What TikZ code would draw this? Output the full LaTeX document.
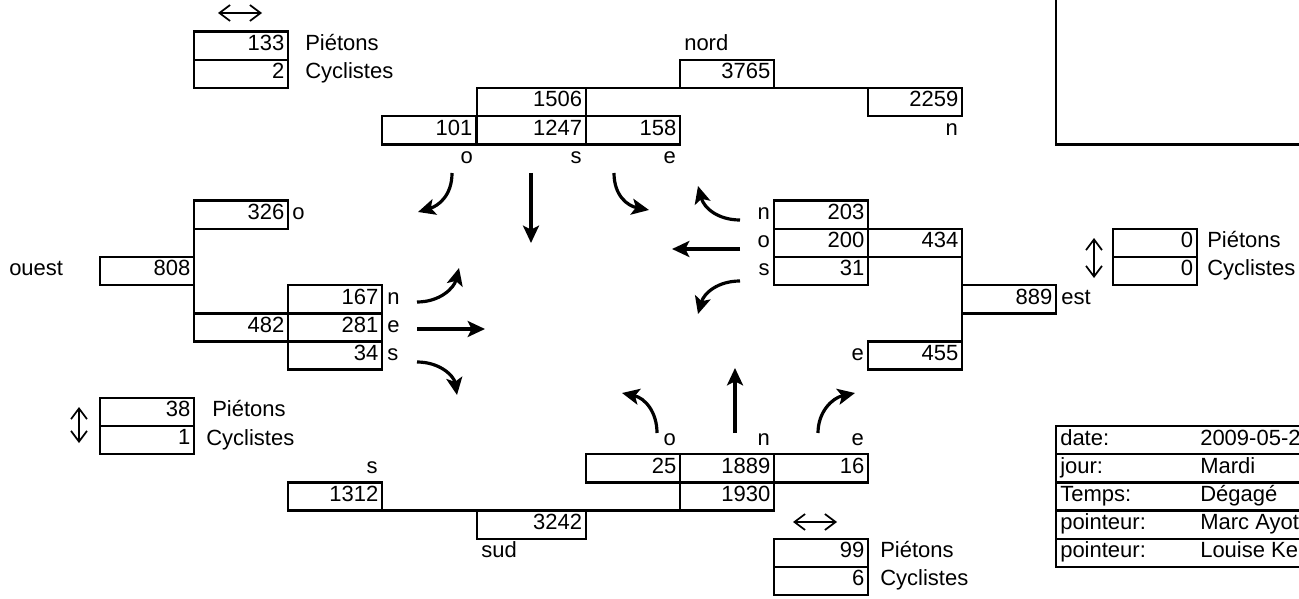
\documentclass[tikz,border=0pt]{standalone}
\usepackage{fontspec}
\setmainfont{Liberation Sans}
\usetikzlibrary{arrows.meta}

\begin{document}
\begin{tikzpicture}[x=0.75pt,y=-0.75pt,
  font={\fontsize{16.5pt}{20pt}\selectfont},
  cell/.style={draw,line width=1.8pt,outer sep=0pt,anchor=north west,inner xsep=3pt,inner ysep=0pt,
    text width=64.7pt,align=right,minimum height=21.1pt,text height=0.72em,text depth=0pt},
  wcell/.style={cell,text width=75.75pt},
  lab/.style={inner sep=0pt,text height=0.72em,text depth=0pt},
  turn/.style={line width=2.4pt,-{Stealth[length=13pt,width=12pt,inset=3pt]}},
  walk/.style={line width=1.3pt,{Straight Barb[length=8pt,width=12pt]}-{Straight Barb[length=8pt,width=12pt]}},
  rule/.style={line width=1.8pt}]
  \useasboundingbox (0,0) rectangle (1299,599);
  \clip (0,0) rectangle (1299,599);

  % nord
  \node[lab,anchor=west] (nordL) at (684,45.7) {nord};
  \node[cell] (nTot) at (680,59.8) {3765};
  \node[wcell] (nIn) at (477,88) {1506};
  \node[cell] (nOut) at (868,88) {2259};
  \node[cell] (nO) at (382,116.2) {101};
  \node[wcell] (nS) at (477,116.2) {1247};
  \node[cell] (nE) at (586,116.2) {158};
  \draw[rule] (nIn.north east) -- (nOut.north west);
  \node[lab,anchor=east] (nOutL) at (958,130.3) {n};
  \node[lab,anchor=east] (nOL) at (473,158.5) {o};
  \node[lab,anchor=east] (nSL) at (582,158.5) {s};
  \node[lab,anchor=east] (nEL) at (676,158.5) {e};

  % ouest
  \node[cell] (oTurn) at (194,200.7) {326};
  \node[lab,anchor=west] (oTurnL) at (292,214.8) {o};
  \node[lab,anchor=west] (ouestL) at (9,271.1) {ouest};
  \node[cell] (oTot) at (100,257) {808};
  \node[cell] (oN) at (288,285.2) {167};
  \node[cell] (oIn) at (194,313.4) {482};
  \node[cell] (oE) at (288,313.4) {281};
  \node[cell] (oS) at (288,341.5) {34};
  \draw[rule] (oTurn.north west) -- (oIn.south west);
  \node[lab,anchor=west] (oNL) at (387,299.3) {n};
  \node[lab,anchor=west] (oEL) at (387,327.5) {e};
  \node[lab,anchor=west] (oSL) at (387,355.6) {s};

  % est
  \node[cell] (eN) at (774,200.7) {203};
  \node[cell] (eO) at (774,228.9) {200};
  \node[cell] (eIn) at (868,228.9) {434};
  \node[cell] (eS) at (774,257) {31};
  \node[cell] (eTot) at (962,285.2) {889};
  \node[cell] (eOut) at (868,341.5) {455};
  \draw[rule] (eIn.south east) -- (eOut.north east);
  \node[lab,anchor=east] (eNL) at (770,214.8) {n};
  \node[lab,anchor=east] (eOL) at (770,243) {o};
  \node[lab,anchor=east] (eSL) at (770,271.1) {s};
  \node[lab,anchor=west] (estL) at (1061,299.3) {est};
  \node[lab,anchor=east] (eOutL) at (864,355.6) {e};

  % sud
  \node[lab,anchor=east] (sOL) at (676,440.2) {o};
  \node[lab,anchor=east] (sNL) at (770,440.2) {n};
  \node[lab,anchor=east] (sEL) at (864,440.2) {e};
  \node[cell] (sO) at (586,454.2) {25};
  \node[cell] (sN) at (680,454.2) {1889};
  \node[cell] (sE) at (774,454.2) {16};
  \node[cell] (sIn) at (680,482.4) {1930};
  \node[lab,anchor=east] (sOutL) at (378,468.3) {s};
  \node[cell] (sOut) at (288,482.4) {1312};
  \node[wcell] (sTot) at (477,510.6) {3242};
  \draw[rule] (sOut.south east) -- (sIn.south west);
  \node[lab,anchor=west] (sudL) at (481,552.8) {sud};

  % mouvements
  \draw[turn] (452,173) .. controls (452,196) and (438,206) .. (418,212);
  \draw[turn] (531,173) -- (531,243);
  \draw[turn] (614,173) .. controls (614,196) and (628,206) .. (649,210);
  \draw[turn] (417,302) .. controls (440,302) and (454,288) .. (459,268);
  \draw[turn] (417,329) -- (485,329);
  \draw[turn] (417,362) .. controls (440,362) and (454,376) .. (457,395);
  \draw[turn] (740,220) .. controls (718,220) and (704,208) .. (698,186);
  \draw[turn] (740,249) -- (672,249);
  \draw[turn] (740,281) .. controls (718,281) and (704,293) .. (698,314);
  \draw[turn] (657,433) .. controls (657,412) and (645,398) .. (622,393);
  \draw[turn] (735,433) -- (735,368);
  \draw[turn] (818,433) .. controls (818,412) and (832,398) .. (855,393);

  % pietons et cyclistes
  \draw[walk] (218,13) -- (262,13);
  \node[cell] (nwPie) at (194,31.7) {133};
  \node[cell] (nwCyc) at (194,59.8) {2};
  \node[lab,anchor=west] (nwPieL) at (305,45.7) {Piétons};
  \node[lab,anchor=west] (nwCycL) at (305,73.9) {Cyclistes};

  \draw[walk] (1094,238) -- (1094,278);
  \node[cell,text width=57pt] (ePie) at (1113,228.9) {0};
  \node[cell,text width=57pt] (eCyc) at (1113,257) {0};
  \node[lab,anchor=west] (ePieL) at (1207,243) {Piétons};
  \node[lab,anchor=west] (eCycL) at (1207,271.1) {Cyclistes};

  \draw[walk] (79,407) -- (79,443);
  \node[cell] (swPie) at (100,397.9) {38};
  \node[cell] (swCyc) at (100,426.1) {1};
  \node[lab,anchor=west] (swPieL) at (212,412) {Piétons};
  \node[lab,anchor=west] (swCycL) at (206,440.2) {Cyclistes};

  \draw[walk] (793,522) -- (837,522);
  \node[cell] (sePie) at (774,538.7) {99};
  \node[cell] (seCyc) at (774,566.9) {6};
  \node[lab,anchor=west] (sePieL) at (880,552.8) {Piétons};
  \node[lab,anchor=west] (seCycL) at (880,581) {Cyclistes};

  % cadre et fiche
  \draw[rule] (1056,-5) -- (1056,144.4) -- (1305,144.4);
  \draw[rule] (1305,426.1) -| (1056,566.9) -- (1305,566.9);
  \draw[rule] (1056,454.2) -- (1305,454.2);
  \draw[rule] (1056,482.4) -- (1305,482.4);
  \draw[rule] (1056,510.6) -- (1305,510.6);
  \draw[rule] (1056,538.7) -- (1305,538.7);
  \node[lab,anchor=west] (dateL) at (1060,440.2) {date:};
  \node[lab,anchor=west] (dateV) at (1200,440.2) {2009-05-2};
  \node[lab,anchor=west] (jourL) at (1060,468.3) {jour:};
  \node[lab,anchor=west] (jourV) at (1200,468.3) {Mardi};
  \node[lab,anchor=west] (tempsL) at (1060,496.5) {Temps:};
  \node[lab,anchor=west] (tempsV) at (1200,496.5) {Dégagé};
  \node[lab,anchor=west] (ptr1L) at (1060,524.6) {pointeur:};
  \node[lab,anchor=west] (ptr1V) at (1200,524.6) {Marc Ayot};
  \node[lab,anchor=west] (ptr2L) at (1060,552.8) {pointeur:};
  \node[lab,anchor=west] (ptr2V) at (1200,552.8) {Louise Ke};
\end{tikzpicture}
\end{document}
